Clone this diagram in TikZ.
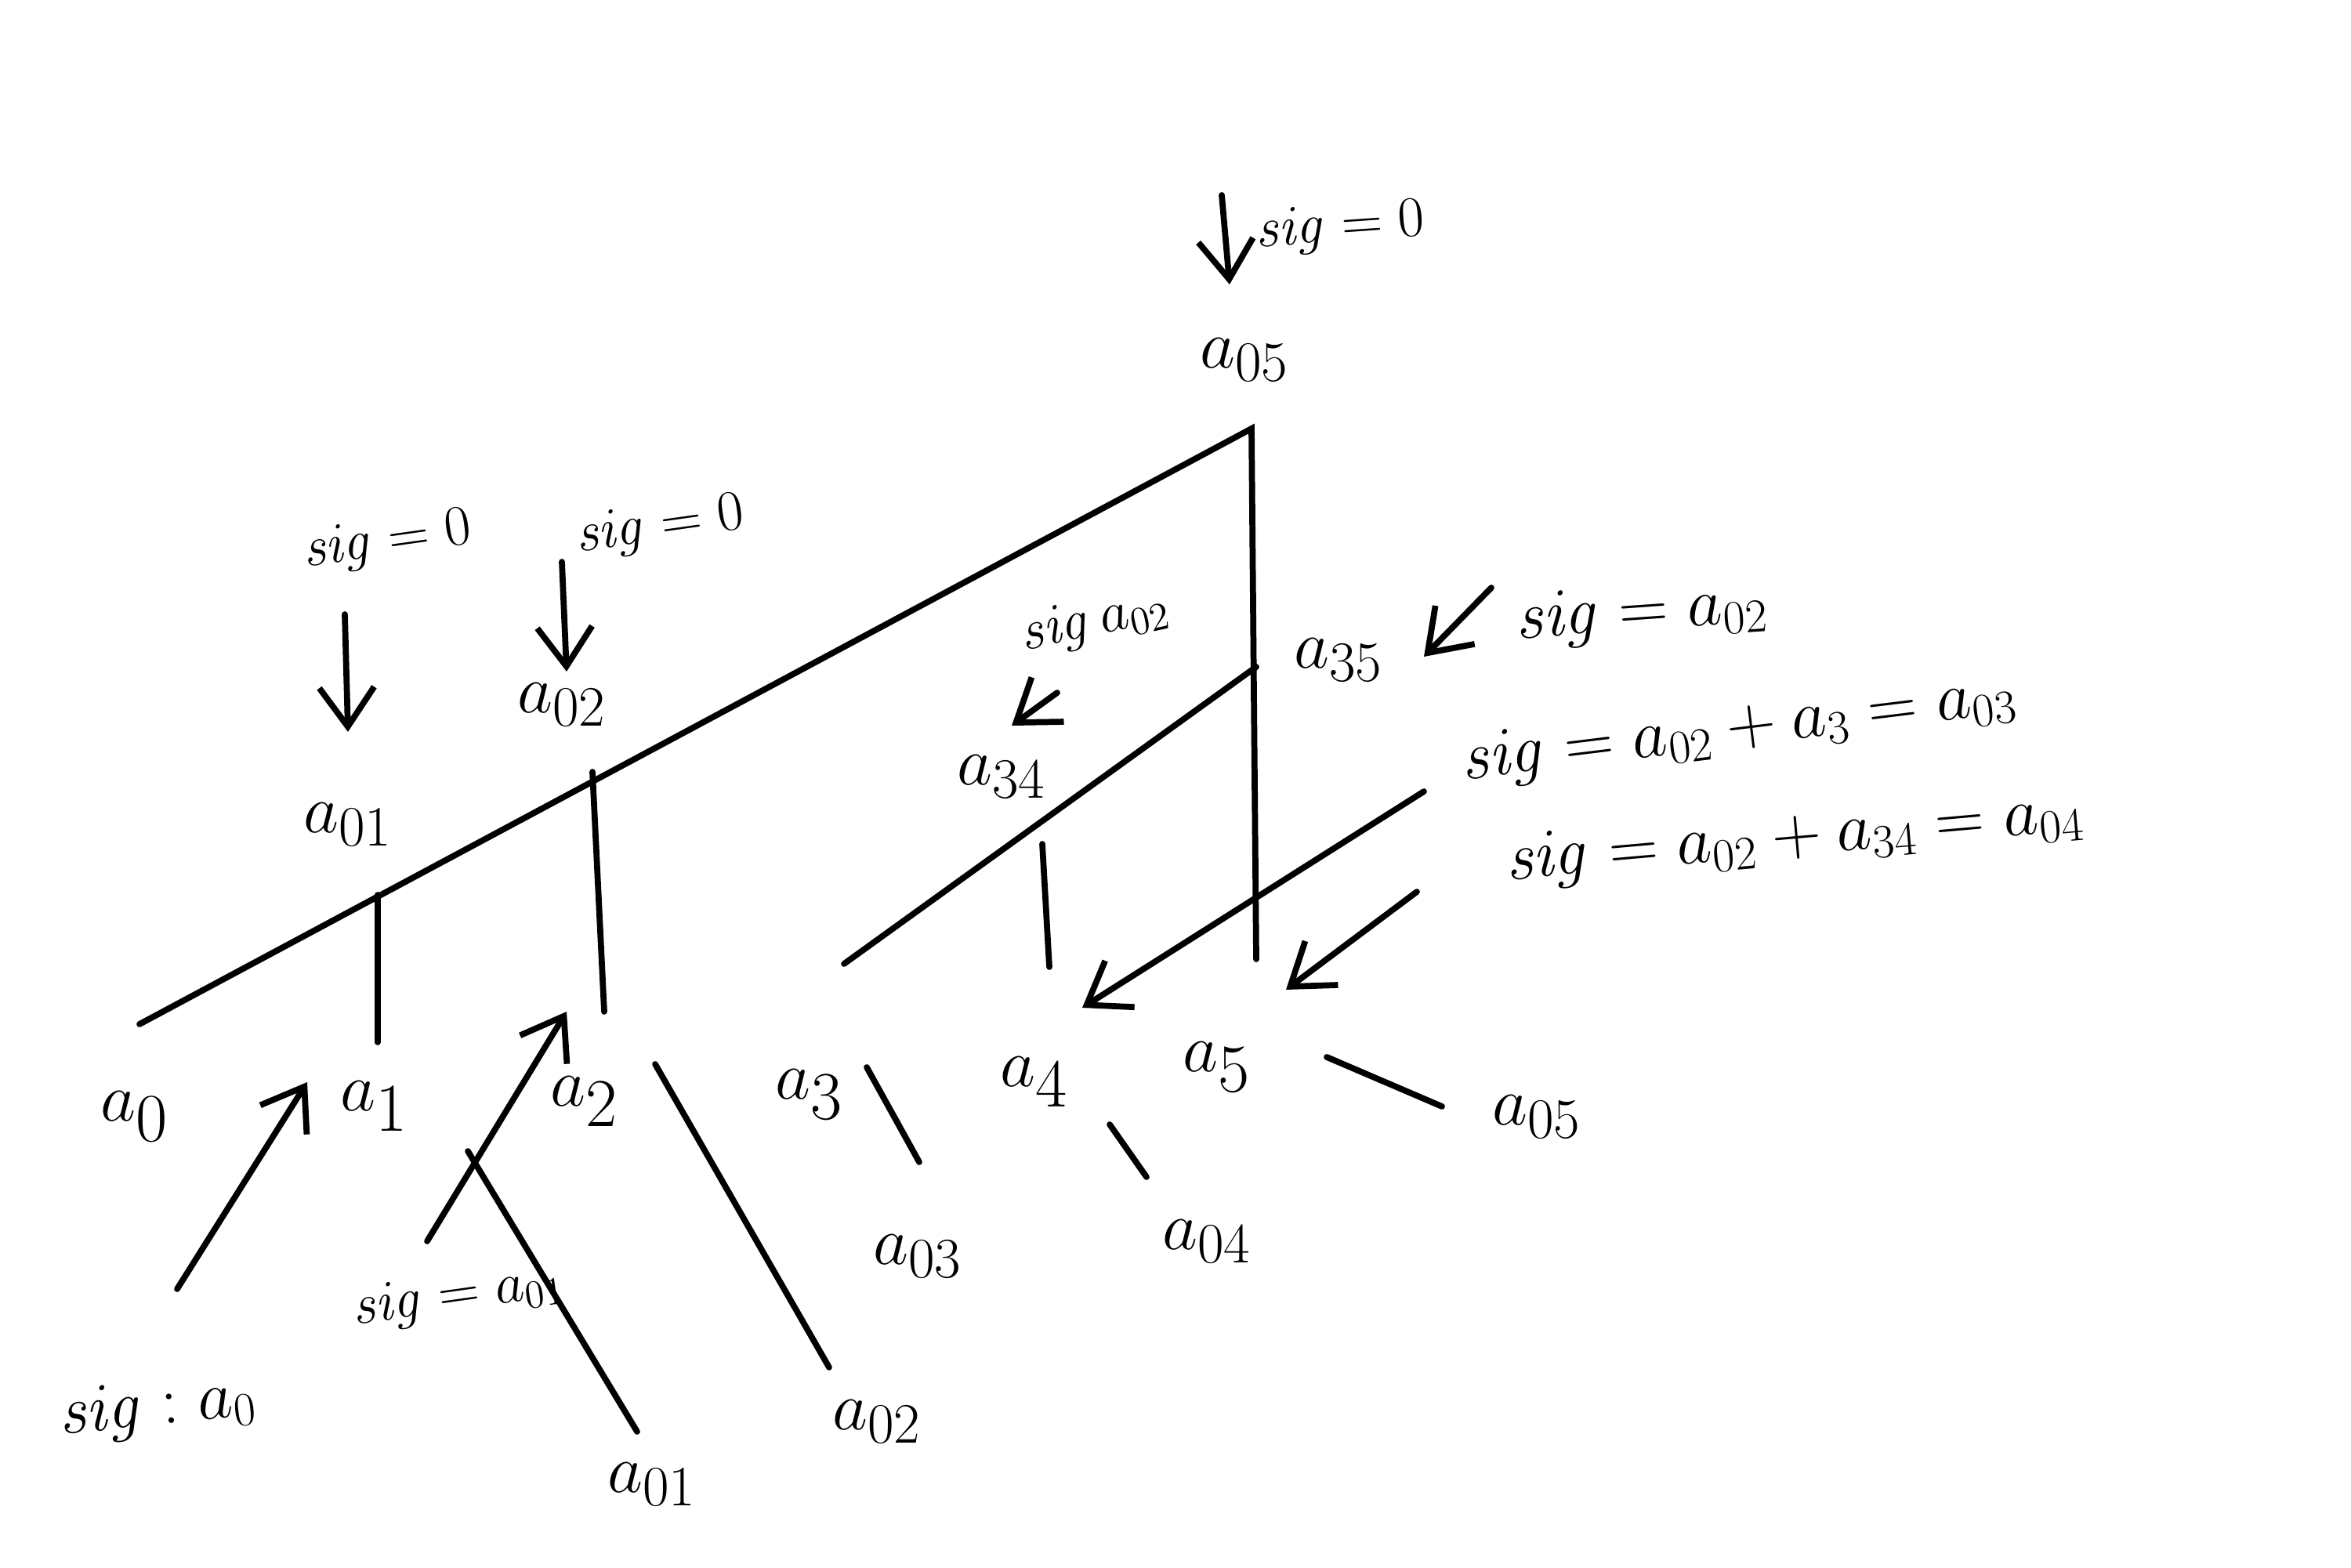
\documentclass[tikz,border=0pt]{standalone}
\usetikzlibrary{arrows.meta}

\tikzset{
    leaflabel/.style={font=\fontsize{40}{48}\selectfont},
    midlabel/.style={font=\fontsize{30}{36}\selectfont},
    siglabel/.style={font=\fontsize{20}{24}\selectfont},
    sigbig/.style={font=\fontsize{26}{30}\selectfont},
    treeline/.style={line width=2.2pt, line cap=round},
    sigarrow/.style={treeline, -{Straight Barb[length=5mm,width=7mm]}},
}

\begin{document}
\begin{tikzpicture}
            \useasboundingbox (0, 0) rectangle (30, 20);

            % tree
            \coordinate (M0) at (1.78, 6.93);
            \coordinate (M1) at (15.97, 14.53);
            \coordinate (M2) at (16.03, 7.76);
            \coordinate (V1a) at (4.82, 8.58);
            \coordinate (V1b) at (4.82, 6.70);
            \coordinate (V2a) at (7.56, 10.15);
            \coordinate (V2b) at (7.71, 7.09);
            \coordinate (D1) at (16.03, 11.49);
            \coordinate (D2) at (10.77, 7.70);
            \coordinate (V3a) at (13.30, 9.23);
            \coordinate (V3b) at (13.39, 7.66);

            \draw[treeline] (M0) -- (M1) -- (M2);
            \draw[treeline] (V1a) -- (V1b);
            \draw[treeline] (V2a) -- (V2b);
            \draw[treeline] (D1) -- (D2);
            \draw[treeline] (V3a) -- (V3b);

            \node[midlabel] (n05) at (15.88, 15.41) { $a_{05}$ };
            \node[midlabel] (n01) at (4.44, 9.48) { $a_{01}$ };
            \node[midlabel] (n02) at (7.17, 11.01) { $a_{02}$ };
            \node[midlabel] (n34) at (12.78, 10.09) { $a_{34}$ };
            \node[midlabel] (n35) at (17.08, 11.58) { $a_{35}$ };

            \node[leaflabel] (a0) at (1.72, 5.75) { $a_0$ };
            \node[leaflabel] (a1) at (4.78, 5.88) { $a_1$ };
            \node[leaflabel] (a2) at (7.46, 5.94) { $a_2$ };
            \node[leaflabel] (a3) at (10.33, 6.03) { $a_3$ };
            \node[leaflabel] (a4) at (13.20, 6.19) { $a_4$ };
            \node[leaflabel] (a5) at (15.53, 6.38) { $a_5$ };

            % prefix sums
            \node[midlabel] (p01) at (8.32, 1.06) { $a_{01}$ };
            \node[midlabel] (p02) at (11.19, 1.86) { $a_{02}$ };
            \node[midlabel] (p03) at (11.71, 3.97) { $a_{03}$ };
            \node[midlabel] (p04) at (15.40, 4.16) { $a_{04}$ };
            \node[midlabel] (p05) at (19.61, 5.75) { $a_{05}$ };

            \coordinate (L1a) at (5.97, 5.31);
            \coordinate (L1b) at (8.13, 1.73);
            \coordinate (L2a) at (8.36, 6.42);
            \coordinate (L2b) at (10.58, 2.55);
            \coordinate (L3a) at (11.06, 6.38);
            \coordinate (L3b) at (11.73, 5.17);
            \coordinate (L4a) at (14.16, 5.65);
            \coordinate (L4b) at (14.63, 4.98);
            \coordinate (L5a) at (16.93, 6.51);
            \coordinate (L5b) at (18.40, 5.88);

            \draw[treeline] (L1a) -- (L1b);
            \draw[treeline] (L2a) -- (L2b);
            \draw[treeline] (L3a) -- (L3b);
            \draw[treeline] (L4a) -- (L4b);
            \draw[treeline] (L5a) -- (L5b);

            % sig labels
            \node[siglabel, rotate=4] (s05) at (17.10, 17.09) { $\mathit{sig}=0$ };
            \node[siglabel, rotate=8] (s01) at (4.94, 13.08) { $\mathit{sig}=0$ };
            \node[siglabel, rotate=8] (s02) at (8.42, 13.27) { $\mathit{sig}=0$ };
            \node[siglabel, rotate=12] (s34) at (13.97, 12.06) { $\mathit{sig}\,a_{02}$ };
            \node[sigbig, rotate=4] (s35) at (20.95, 12.16) { $\mathit{sig}=a_{02}$ };
            \node[sigbig, rotate=7] (s03) at (22.19, 10.68) { $\mathit{sig}=a_{02}+a_3=a_{03}$ };
            \node[sigbig, rotate=5] (s04) at (22.90, 9.29) { $\mathit{sig}=a_{02}+a_{34}=a_{04}$ };
            \node[sigbig, rotate=6] (sa0) at (2.01, 2.02) { $\mathit{sig}:a_0$ };
            \node[siglabel, rotate=8] (sa1) at (5.85, 3.45) { $\mathit{sig}=a_{01}$ };

            \coordinate (T05a) at (15.59, 17.51);
            \coordinate (T05b) at (15.69, 16.37);
            \coordinate (T01a) at (4.40, 12.16);
            \coordinate (T01b) at (4.44, 10.66);
            \coordinate (T02a) at (7.17, 12.83);
            \coordinate (T02b) at (7.23, 11.43);
            \coordinate (T34a) at (13.49, 11.16);
            \coordinate (T34b) at (12.91, 10.74);
            \coordinate (T35a) at (19.03, 12.50);
            \coordinate (T35b) at (18.17, 11.62);
            \coordinate (T03a) at (18.17, 9.90);
            \coordinate (T03b) at (13.81, 7.14);
            \coordinate (T04a) at (18.08, 8.62);
            \coordinate (T04b) at (16.41, 7.37);
            \coordinate (B0a) at (2.26, 3.55);
            \coordinate (B0b) at (3.92, 6.19);
            \coordinate (B1a) at (5.45, 4.16);
            \coordinate (B1b) at (7.23, 7.09);

            \draw[sigarrow] (T05a) -- (T05b);
            \draw[sigarrow] (T01a) -- (T01b);
            \draw[sigarrow] (T02a) -- (T02b);
            \draw[sigarrow] (T34a) -- (T34b);
            \draw[sigarrow] (T35a) -- (T35b);
            \draw[sigarrow] (T03a) -- (T03b);
            \draw[sigarrow] (T04a) -- (T04b);
            \draw[sigarrow] (B0a) -- (B0b);
            \draw[sigarrow] (B1a) -- (B1b);
\end{tikzpicture}
\end{document}
